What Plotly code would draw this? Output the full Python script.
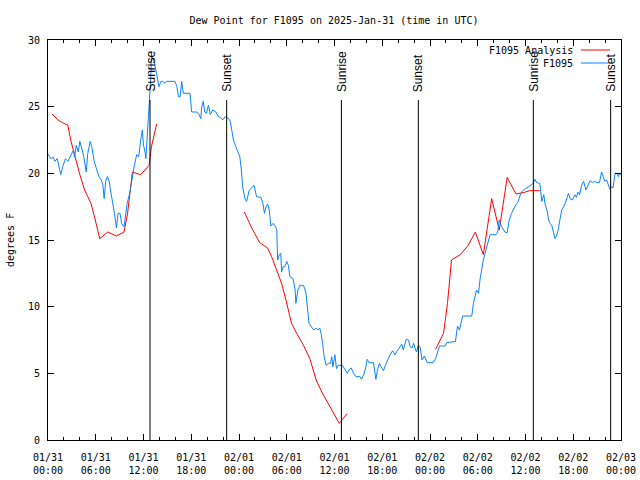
import pandas as pd
import plotly.graph_objects as go

BASE = pd.Timestamp("2025-01-31 00:00")

# Observed dew point (F1095), hours since 2025-01-31 00:00 UTC
obs_hours = [0, 0.33, 0.67, 0.83, 1.17, 1.3, 1.6, 1.9, 2.2, 2.5, 2.85, 3.2, 3.35, 3.55, 3.8, 4.0, 4.3, 4.5, 4.8, 5.0,
             5.3, 5.5, 5.8, 6.1, 6.4, 6.7, 6.9, 7.05, 7.25, 7.45, 7.65, 7.85, 8.15, 8.35, 8.6, 8.8, 9.05, 9.25, 9.55,
             9.75, 9.95, 10.3, 10.6, 10.85, 11.15, 11.4, 11.65, 11.85, 12.0, 12.2, 12.3, 12.45, 12.7, 12.9, 13.0,
             13.3, 13.6, 13.95, 14.2, 14.4, 14.7, 14.9, 15.95, 16.2, 16.4, 16.6, 16.8, 17.0, 17.85, 18.05, 18.7,
             19.0, 19.2, 19.3, 19.5, 19.7, 19.9, 20.15, 20.4, 20.7, 21.1, 21.4, 21.7, 21.95, 22.25, 22.7, 22.9,
             23.1, 23.3, 23.6, 23.9, 24.1, 24.3, 24.45, 24.75, 24.95, 25.3, 25.6, 25.9, 26.2, 26.75, 27.0, 27.2,
             27.4, 27.6, 27.8, 28.0, 28.3, 28.6, 28.75, 28.85, 29.05, 29.25, 29.35, 29.55, 29.75, 30.0, 30.2, 30.4,
             30.8, 31.05, 31.15, 31.4, 31.65, 32.1, 32.4, 32.6, 32.8, 33.2, 33.4, 33.7, 33.95, 34.15, 34.35, 34.5,
             34.7, 34.95, 35.25, 35.5, 35.65, 35.8, 36.05, 36.25, 36.45, 37.0, 37.3, 37.6, 37.8, 38.1, 38.4, 38.7,
             39.2, 39.4, 39.7, 39.95, 40.1, 40.35, 40.9, 41.1, 41.2, 41.4, 41.65, 41.85, 42.15, 42.5, 42.9, 43.3,
             43.6, 43.8, 44.2, 44.45, 44.65, 45.0, 45.3, 45.5, 45.75, 45.95, 46.1, 46.3, 46.55, 46.75, 47.0, 47.3,
             47.65, 48.4, 48.7, 49.05, 49.2, 49.9, 50.1, 51.2, 51.3, 51.45, 51.7, 52.1, 53.25, 53.45, 53.85, 54.1,
             54.3, 54.5, 54.7, 55.1, 55.35, 55.55, 56.3, 56.5, 56.7, 57.0, 57.4, 57.7, 57.95, 58.25, 58.7, 59.1,
             59.4, 59.75, 60.15, 60.55, 60.9, 61.2, 61.4, 61.8, 61.9, 62.05, 62.3, 62.45, 62.75, 62.9, 63.1, 63.3,
             63.5, 63.7, 63.9, 64.1, 64.35, 64.55, 64.8, 65.0, 65.4, 65.6, 65.9, 66.2, 66.4, 66.6, 66.8, 67.05,
             67.3, 67.6, 68.1, 68.4, 68.7, 69.0, 69.3, 69.55, 69.75, 69.95, 70.2, 70.45, 70.6, 70.8, 71.0, 71.25,
             71.5, 71.7, 71.8, 72.0]
obs_values = [21.45, 21.1, 21.2, 20.9, 21.1, 20.8, 19.9, 20.6, 21.1, 20.9, 21.3, 21.75, 21.2, 22.1, 21.6, 22.4, 21.75,
              21.25, 20.1, 21.5, 22.4, 22.0, 20.9, 20.4, 19.75, 19.5, 19.1, 18.1, 19.4, 19.75, 19.5, 18.75, 17.75,
              17.0, 15.9, 17.0, 17.0, 16.25, 16.0, 16.75, 17.75, 18.6, 19.75, 20.6, 21.4, 21.25, 22.5, 23.25, 22.1,
              21.6, 21.1, 22.5, 24.9, 27.0, 28.8, 28.5, 27.6, 26.5, 26.9, 26.9, 26.75, 26.9, 26.9, 26.5, 25.75,
              25.75, 26.9, 26.0, 26.0, 24.6, 24.6, 24.4, 24.1, 24.9, 25.4, 24.6, 24.5, 25.1, 24.4, 24.75, 24.6,
              24.25, 24.2, 24.0, 24.25, 24.1, 23.9, 23.25, 22.5, 22.0, 21.6, 21.25, 20.25, 19.0, 18.1, 17.9, 18.75,
              18.9, 19.1, 18.25, 18.2, 17.75, 17.0, 17.5, 17.7, 17.25, 16.05, 16.25, 16.0, 15.75, 13.5, 13.9, 14.0,
              12.6, 13.0, 13.0, 13.4, 13.1, 12.25, 12.1, 11.25, 10.25, 11.25, 11.6, 11.6, 11.1, 9.75, 8.75, 8.4,
              8.25, 8.4, 8.25, 8.4, 7.9, 7.25, 6.25, 5.6, 5.75, 5.75, 6.25, 5.5, 6.4, 5.35, 5.6, 5.6, 5.25, 5.0,
              5.25, 5.4, 5.0, 4.75, 4.75, 4.55, 4.95, 5.5, 6.05, 5.8, 5.8, 5.0, 4.55, 5.25, 5.75, 5.5, 5.2, 5.75,
              6.3, 6.7, 6.4, 6.6, 7.0, 7.2, 6.75, 7.55, 7.5, 7.0, 6.9, 7.25, 6.9, 6.6, 7.1, 7.0, 6.0, 6.3, 5.8,
              5.8, 6.1, 6.75, 7.05, 7.05, 7.3, 7.4, 8.0, 8.55, 8.25, 9.3, 9.3, 10.25, 11.25, 11.0, 12.1, 12.75,
              13.5, 14.4, 15.0, 15.4, 15.4, 15.6, 16.5, 16.0, 15.6, 15.55, 16.5, 17.0, 17.55, 17.9, 18.5, 18.75,
              18.9, 19.05, 19.2, 19.55, 19.3, 19.25, 18.6, 17.9, 18.4, 17.7, 17.1, 16.5, 16.25, 16.1, 15.6, 15.1,
              15.3, 15.75, 16.6, 17.25, 17.5, 17.75, 18.5, 18.1, 18.0, 18.4, 18.2, 18.6, 18.4, 19.1, 19.4, 18.75,
              19.45, 19.3, 19.4, 19.3, 19.3, 20.1, 19.8, 19.4, 19.5, 19.1, 18.8, 19.0, 18.9, 20.0, 20.0, 19.75,
              20.0, 19.9]

# Analysis dew point (F1095 Analysis); None marks gaps between runs
ana_hours = [0.5, 1.17, 1.8, 2.5, 2.85, 3.5, 4.0, 4.6, 5.4, 5.9, 6.5, 7.5, 8.6, 9.55, 10.0, 10.6, 11.65, 12.7,
             13.0, 13.65, None,
             24.67, 25.6, 26.6, 27.6, 28.1, 28.7, 29.35, 29.9, 30.6, 31.25, 32.1, 32.9, 33.7, 34.4, 35.4, 36.6,
             37.55, None,
             48.7, 49.7, 50.2, 50.7, 51.8, 52.8, 53.7, 54.7, 55.75, 56.7, 57.7, 58.8, 59.7, 60.55, 61.8]
ana_values = [24.45, 24.05, 23.8, 23.6, 22.5, 21.0, 19.9, 18.75, 17.75, 16.6, 15.1, 15.6, 15.3, 15.6, 17.0, 20.1,
              19.9, 20.6, 22.0, 23.7, None,
              17.1, 15.9, 14.8, 14.4, 13.75, 12.75, 11.75, 10.5, 8.75, 8.0, 7.1, 6.1, 4.5, 3.6, 2.5, 1.25, 1.95,
              None,
              6.8, 8.0, 10.25, 13.5, 13.9, 14.6, 15.6, 13.9, 18.1, 15.75, 19.7, 18.45, 18.55, 18.7, 18.7]

sun_times = ["2025-01-31 12:49", "2025-01-31 22:27", "2025-02-01 12:52",
             "2025-02-01 22:32", "2025-02-02 12:59", "2025-02-02 22:42"]
sun_labels = ["Sunrise", "Sunset", "Sunrise", "Sunset", "Sunrise", "Sunset"]

tick_hours = [0, 6, 12, 18, 24, 30, 36, 42, 48, 54, 60, 66, 72]
tick_labels = ["01/31<br>00:00", "01/31<br>06:00", "01/31<br>12:00", "01/31<br>18:00",
               "02/01<br>00:00", "02/01<br>06:00", "02/01<br>12:00", "02/01<br>18:00",
               "02/02<br>00:00", "02/02<br>06:00", "02/02<br>12:00", "02/02<br>18:00",
               "02/03<br>00:00"]


def to_time(hours):
    return [None if h is None else BASE + pd.Timedelta(hours=h) for h in hours]


MONO = "DejaVu Sans Mono"
RED = "#ff0000"
BLUE = "#0a84ff"

fig = go.Figure()
fig.add_trace(go.Scatter(x=to_time(ana_hours), y=ana_values, mode="lines", name="F1095 Analysis",
                         line=dict(color=RED, width=1), connectgaps=False))
fig.add_trace(go.Scatter(x=to_time(obs_hours), y=obs_values, mode="lines", name="F1095",
                         line=dict(color=BLUE, width=1)))

for t, lab in zip(sun_times, sun_labels):
    fig.add_shape(type="line", xref="x", yref="paper", x0=t, x1=t, y0=0, y1=0.85,
                  line=dict(color="black", width=1))
    fig.add_annotation(x=t, xref="x", y=0.865, yref="paper", text=lab, textangle=-90,
                       showarrow=False, xanchor="center", yanchor="bottom",
                       font=dict(family="Liberation Sans", size=12, color="black"))

# gnuplot-style key in the top right corner
key_items = [("F1095 Analysis", RED, 50), ("F1095", BLUE, 63)]
for name, col, ypx in key_items:
    yp = (440 - ypx) / 400
    fig.add_annotation(x=(575 - 48) / 573, xref="paper", y=yp, yref="paper", text=name,
                       showarrow=False, xanchor="right", yanchor="middle",
                       font=dict(family=MONO, size=10, color="black"))
    fig.add_shape(type="line", xref="paper", yref="paper", x0=(581 - 48) / 573, x1=(610 - 48) / 573,
                  y0=yp, y1=yp, line=dict(color=col, width=1))

fig.add_annotation(x=-(48 - 10) / 573, xref="paper", y=0.5, yref="paper", text="degrees F",
                   textangle=-90, showarrow=False, xanchor="center", yanchor="middle",
                   font=dict(family=MONO, size=10, color="black"))

fig.update_layout(
    width=640, height=480,
    margin=dict(l=48, r=19, t=40, b=40, autoexpand=False),
    paper_bgcolor="white", plot_bgcolor="white",
    showlegend=False,
    font=dict(family=MONO, size=10, color="black"),
    title=dict(text="Dew Point for F1095 on 2025-Jan-31 (time in UTC)", x=334 / 640, xanchor="center",
               y=1 - 20 / 480, yanchor="middle", font=dict(family=MONO, size=10, color="black")),
)
fig.update_xaxes(
    type="date", range=[BASE, BASE + pd.Timedelta(hours=72)],
    tickvals=to_time(tick_hours), ticktext=tick_labels,
    ticks="inside", ticklen=6, tickcolor="black",
    showline=True, linecolor="black", linewidth=1, mirror="ticks",
    showgrid=False, zeroline=False, ticklabelstandoff=8, automargin=False,
    minor=dict(ticks="inside", ticklen=3, dtick=2 * 3600 * 1000, tick0=BASE, tickcolor="black", showgrid=False),
    tickfont=dict(family=MONO, size=10),
)
fig.update_yaxes(
    range=[0, 30], dtick=5, tick0=0,
    ticks="inside", ticklen=6, tickcolor="black",
    showline=True, linecolor="black", linewidth=1, mirror="ticks",
    showgrid=False, zeroline=False, ticklabelstandoff=5, automargin=False,
    tickfont=dict(family=MONO, size=10),
)

fig.write_html("out.html", config={"displayModeBar": False},
               post_script="document.body.style.margin='0';")
